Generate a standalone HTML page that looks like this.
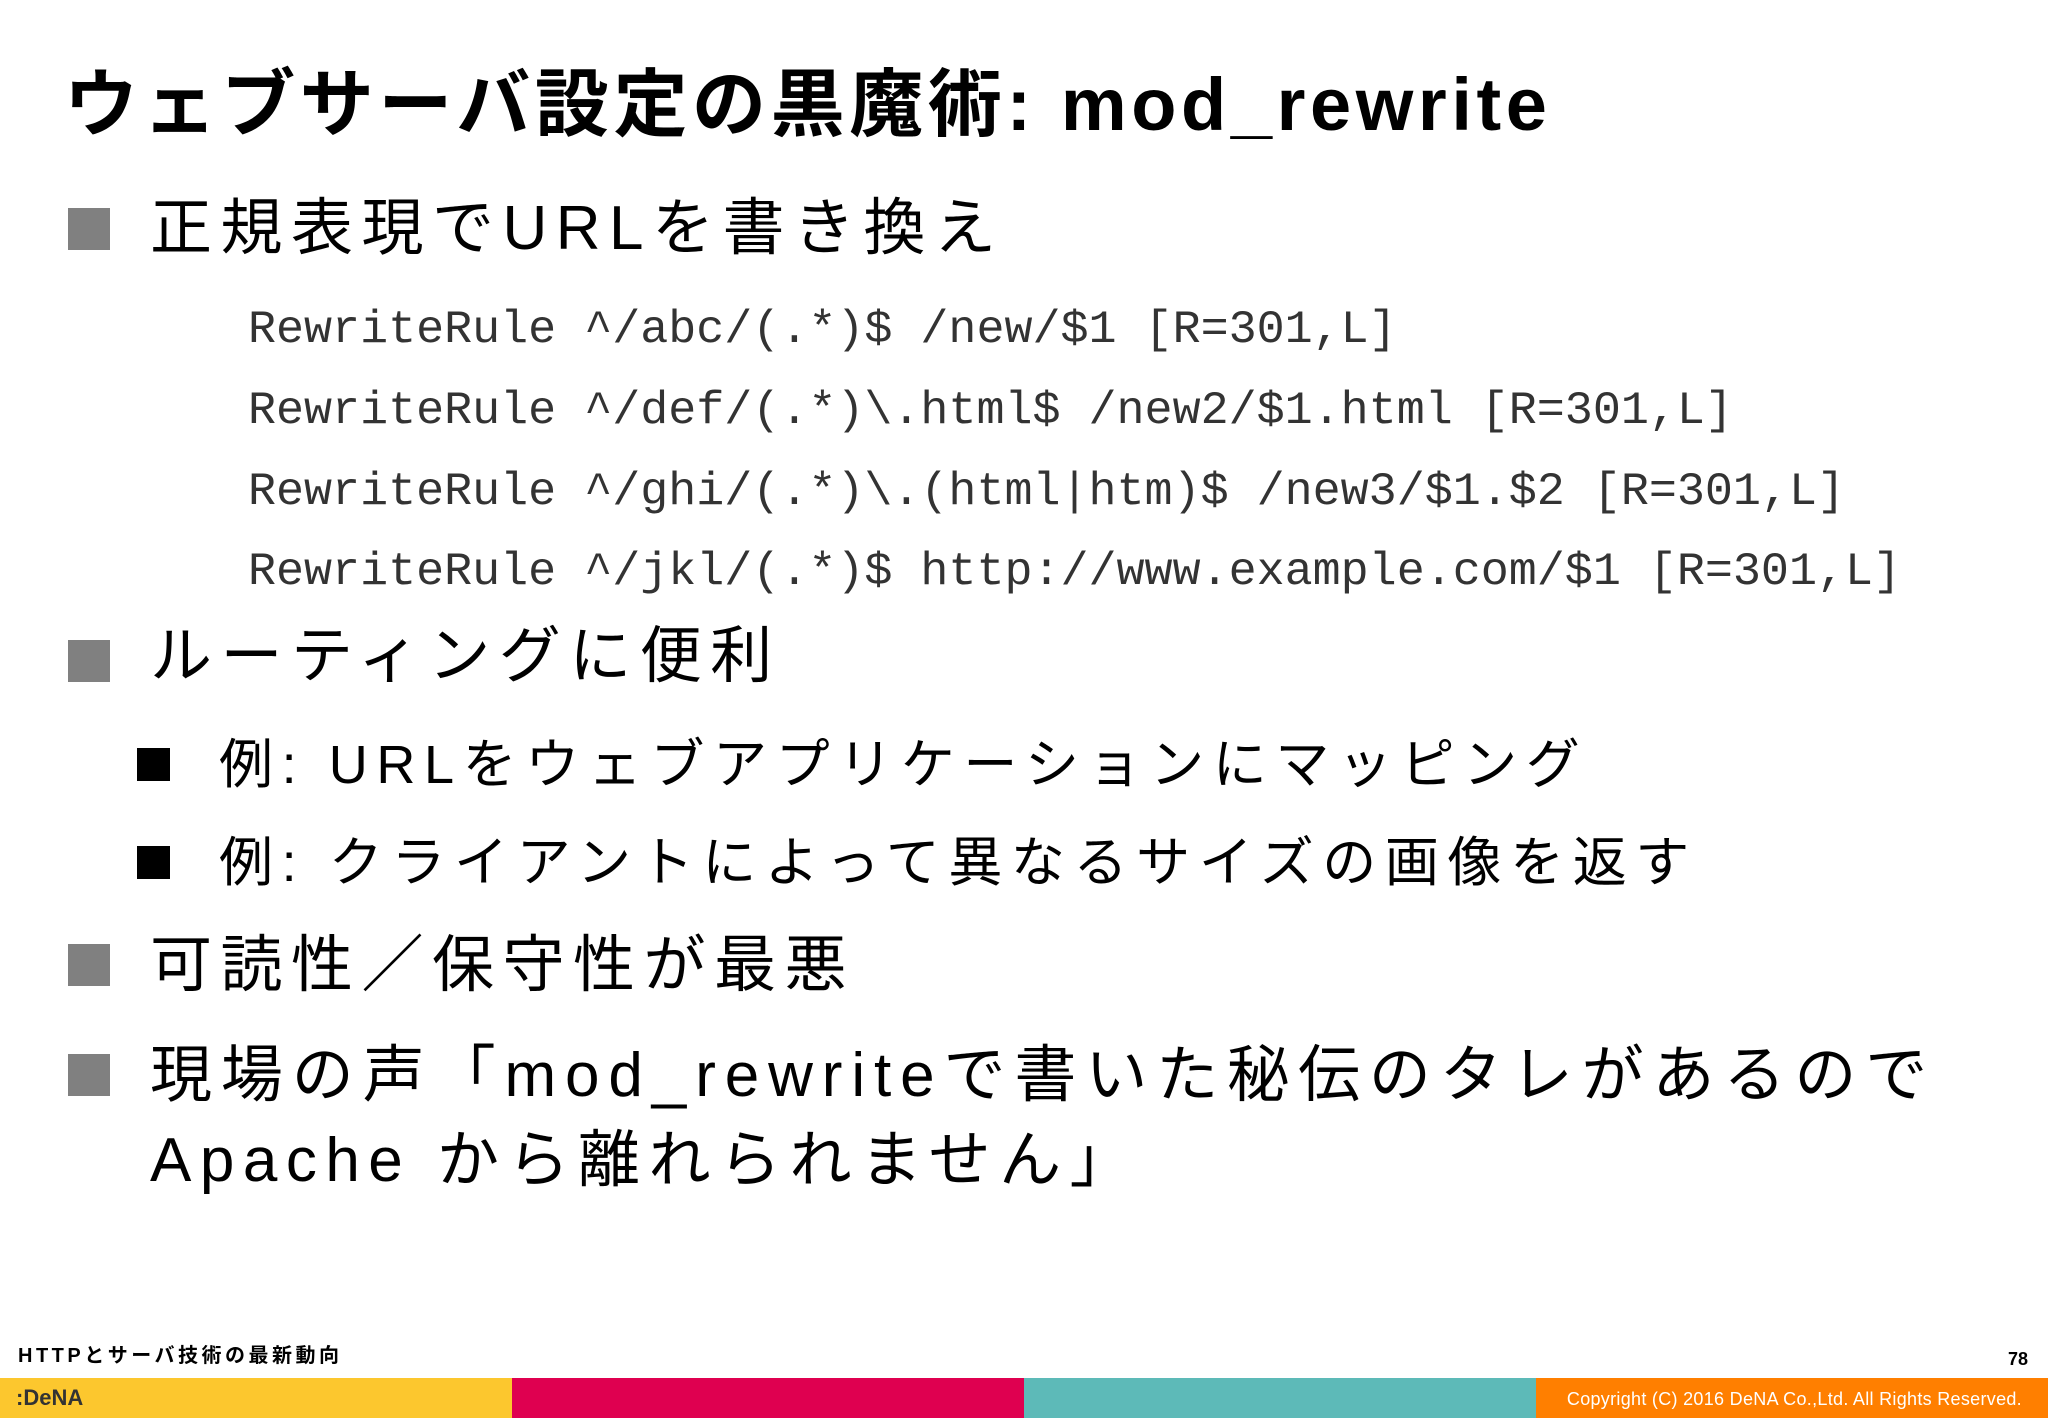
<!DOCTYPE html>
<html><head><meta charset="utf-8"><style>
body{margin:0;width:2048px;height:1418px;position:relative;background:#fff;overflow:hidden;font-family:"Liberation Sans","Noto Sans CJK JP",sans-serif;color:#000}
.a{position:absolute;white-space:nowrap;line-height:1}
.t{left:64px;top:68px;font-size:74px;font-weight:bold;letter-spacing:4.6px}
.l1{left:150px;font-size:62px;letter-spacing:8.5px}
.sq{position:absolute;width:42px;height:42px;background:#808080}
.bs{position:absolute;width:33px;height:33px;background:#000}
.c{left:248px;font-family:"Liberation Mono",monospace;font-size:46.7px;color:#333}
.l2{left:219px;font-size:54px;letter-spacing:8.6px}
.bar{position:absolute;top:1378px;height:40px;width:512px}
</style></head><body>
<div class="a t">ウェブサーバ設定の黒魔術: mod_rewrite</div>
<div class="sq" style="left:68px;top:208px"></div>
<div class="a l1" style="top:198px">正規表現でURLを書き換え</div>
<div class="a c" style="top:308px">RewriteRule ^/abc/(.*)$ /new/$1 [R=301,L]</div>
<div class="a c" style="top:389px">RewriteRule ^/def/(.*)\.html$ /new2/$1.html [R=301,L]</div>
<div class="a c" style="top:470px">RewriteRule ^/ghi/(.*)\.(html|htm)$ /new3/$1.$2 [R=301,L]</div>
<div class="a c" style="top:550px">RewriteRule ^/jkl/(.*)$ http://www.example.com/$1 [R=301,L]</div>
<div class="sq" style="left:68px;top:640px"></div>
<div class="a l1" style="top:626px">ルーティングに便利</div>
<div class="bs" style="left:137px;top:748px"></div>
<div class="a l2" style="top:738px">例: URLをウェブアプリケーションにマッピング</div>
<div class="bs" style="left:137px;top:846px"></div>
<div class="a l2" style="top:836px">例: クライアントによって異なるサイズの画像を返す</div>
<div class="sq" style="left:68px;top:944px"></div>
<div class="a l1" style="top:935px">可読性／保守性が最悪</div>
<div class="sq" style="left:68px;top:1054px"></div>
<div class="a l1" style="top:1045px;letter-spacing:8.9px">現場の声「mod_rewriteで書いた秘伝のタレがあるので</div>
<div class="a l1" style="top:1130px">Apache から離れられません」</div>
<div class="a" style="left:18px;top:1346px;font-size:20px;font-weight:bold;letter-spacing:3.5px">HTTPとサーバ技術の最新動向</div>
<div class="a" style="right:20px;top:1350px;font-size:18px;font-weight:bold">78</div>
<div class="bar" style="left:0;background:#FCC72E"></div>
<div class="bar" style="left:512px;background:#DF0050"></div>
<div class="bar" style="left:1024px;background:#5DBAB8"></div>
<div class="bar" style="left:1536px;background:#FF7F00"></div>
<div class="a" style="left:16px;top:1387px;font-size:22px;font-weight:bold;color:#333">:DeNA</div>
<div class="a" style="right:26px;top:1390px;font-size:18px;color:#fff;letter-spacing:0.3px">Copyright (C) 2016 DeNA Co.,Ltd. All Rights Reserved.</div>
</body></html>
